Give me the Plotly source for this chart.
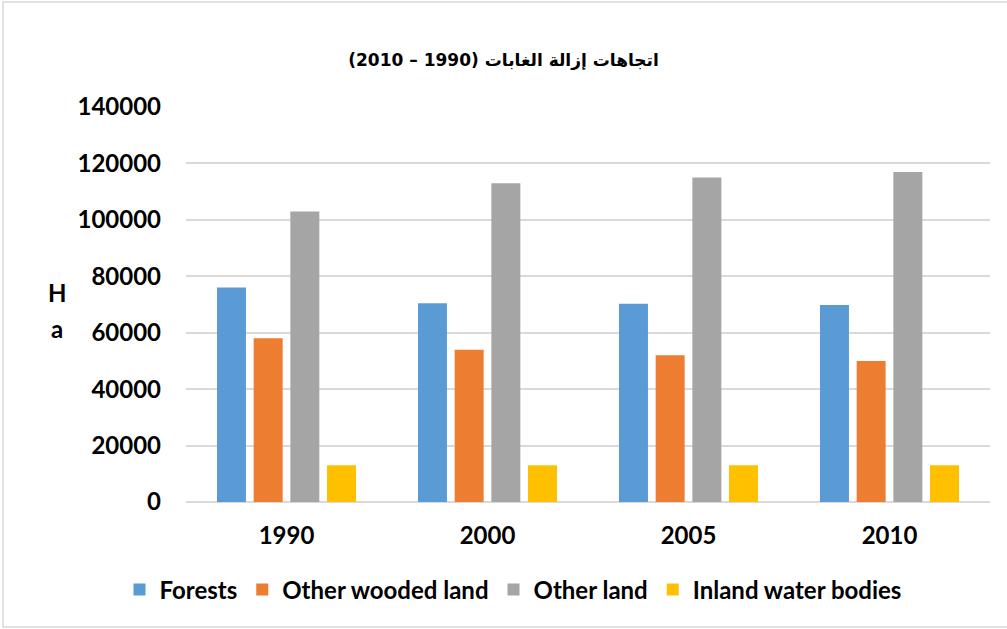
import plotly.graph_objects as go

years = ["1990", "2000", "2005", "2010"]
forests = [76000, 70400, 70300, 69800]
other_wooded = [58000, 54000, 52000, 50000]
other_land = [103000, 113000, 115000, 117000]
inland_water = [13000, 13000, 13000, 13000]

series = [
    ("Forests", forests, "#5B9BD5"),
    ("Other wooded land", other_wooded, "#ED7D31"),
    ("Other land", other_land, "#A5A5A5"),
    ("Inland water bodies", inland_water, "#FFC000"),
]

y_ticks = [0, 20000, 40000, 60000, 80000, 100000, 120000, 140000]
title_text = "\u202Bاتجاهات إزالة الغابات (1990 – 2010)\u202C"

FONT = "Lato"
FS = 24
W, H = 1007, 629
ML, MR, MT, MB = 186, 17, 107, 127

fig = go.Figure()
for name, vals, col in series:
    fig.add_trace(go.Bar(x=years, y=vals, name=name, marker=dict(color=col, line=dict(width=0))))

pw = W - ML - MR
ph = H - MT - MB

def px_x(x):
    return (x - ML) / pw

def px_y(y):
    return (H - MB - y) / ph

fig.update_layout(
    width=W, height=H,
    margin=dict(l=ML, r=MR, t=MT, b=MB),
    paper_bgcolor="white", plot_bgcolor="white",
    barmode="group", bargap=0.27, bargroupgap=0.21,
    font=dict(family=FONT, size=FS, color="#000000", weight="bold"),
    title=dict(text=title_text, x=0.5, xanchor="center", y=1 - 60 / H, yanchor="middle",
               font=dict(family="DejaVu Sans", size=17, color="#000000", weight="bold")),
    legend=dict(orientation="h", x=px_x(513), xanchor="center", y=px_y(590), yanchor="middle",
                font=dict(family=FONT, size=FS, color="#000000", weight="bold"),
                itemwidth=30, traceorder="normal", bgcolor="rgba(0,0,0,0)"),
    showlegend=True,
)
fig.update_xaxes(showgrid=False, showline=False, ticks="", ticklabelstandoff=17,
                 tickfont=dict(family=FONT, size=FS, weight="bold"))
fig.update_yaxes(range=[0, 140000], tickvals=y_ticks, ticktext=[str(v) for v in y_ticks],
                 showgrid=True, gridcolor="#d9d9d9", gridwidth=1.5,
                 zeroline=True, zerolinecolor="#d9d9d9", zerolinewidth=1.5,
                 showline=False, ticks="", ticklabelstandoff=24,
                 tickfont=dict(family=FONT, size=FS, weight="bold"))

fig.add_annotation(text="H", xref="paper", yref="paper", x=px_x(57), y=px_y(292),
                   showarrow=False, xanchor="center", yanchor="middle",
                   font=dict(family=FONT, size=FS, weight="bold", color="#000000"))
fig.add_annotation(text="a", xref="paper", yref="paper", x=px_x(57), y=px_y(328),
                   showarrow=False, xanchor="center", yanchor="middle",
                   font=dict(family=FONT, size=FS, weight="bold", color="#000000"))

fig.add_shape(type="rect", xref="paper", yref="paper",
              x0=px_x(3), x1=px_x(1012), y0=px_y(627), y1=px_y(2),
              line=dict(color="#d9d9d9", width=1.5), fillcolor="rgba(0,0,0,0)", layer="below")

fig.write_html("out.html")
